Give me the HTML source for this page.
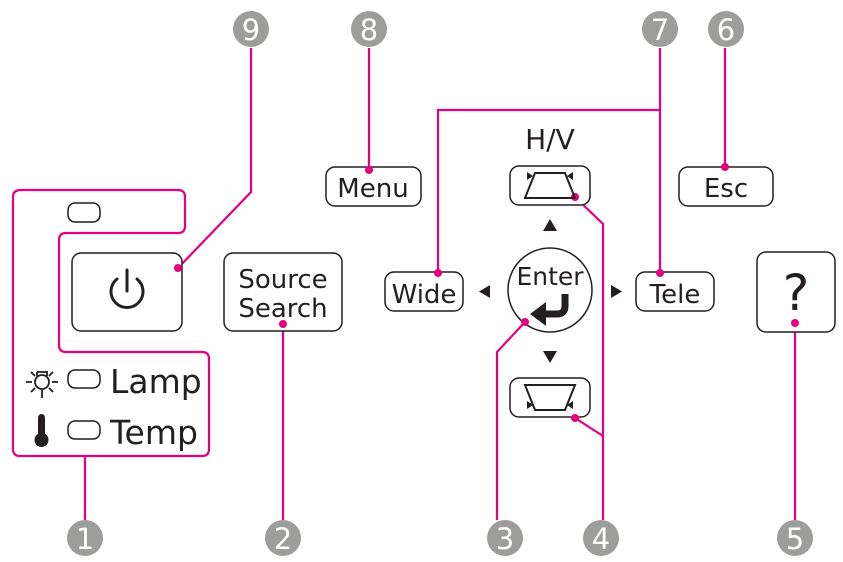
<!DOCTYPE html>
<html><head><style>
html,body{margin:0;padding:0;background:#fff;}
svg{display:block;}
text{font-family:"DejaVu Sans","Liberation Sans",sans-serif;fill:#231f20;}
.n{fill:#fff;font-size:29px;text-anchor:middle;}
</style></head><body>
<svg width="843" height="562" viewBox="0 0 843 562">
<g fill="none" stroke="#e6007e" stroke-width="2.2">
<path d="M251,48 V192 L178,268"/>
<path d="M369,48 V170"/>
<path d="M725,48 V167"/>
<path d="M660,48 V273 M660,110 H438 V273"/>
<path d="M575,197 L603,224 V520 M575,418 L603,436"/>
<path d="M525,322 L497,352 V520"/>
<path d="M283,324 V520"/>
<path d="M795,323 V520"/>
<path d="M85,456 V520"/>
<path d="M21,190 H178 Q185,190 185,197 V226 Q185,233 178,233 H66 Q59,233 59,240 V345 Q59,352 66,352 H202 Q209,352 209,359 V449 Q209,456 202,456 H20 Q13,456 13,449 V197 Q13,190 21,190 Z"/>
</g>
<g fill="#9d9d9c">
<circle cx="251" cy="29" r="18"/><circle cx="369" cy="29" r="18"/><circle cx="660" cy="29" r="18"/><circle cx="726" cy="29" r="18"/>
<circle cx="85" cy="538" r="18"/><circle cx="283" cy="538" r="18"/><circle cx="505" cy="538" r="18"/><circle cx="601" cy="538" r="18"/><circle cx="795" cy="538" r="18"/>
</g>
<g>
<text class="n" x="251" y="40">9</text><text class="n" x="369" y="40">8</text><text class="n" x="660" y="40">7</text><text class="n" x="726" y="40">6</text>
<text class="n" x="85" y="549">1</text><text class="n" x="283" y="549">2</text><text class="n" x="505" y="549">3</text><text class="n" x="601" y="549">4</text><text class="n" x="795" y="549">5</text>
</g>
<g fill="#fff" stroke="#231f20" stroke-width="1.5">
<rect x="68" y="203" width="32" height="19" rx="7"/>
<rect x="72" y="253" width="110" height="78" rx="9"/>
<rect x="224" y="253" width="118" height="78" rx="9"/>
<rect x="326" y="167" width="95" height="39" rx="9"/>
<rect x="679" y="167" width="94" height="39" rx="9"/>
<rect x="510" y="166" width="80" height="39" rx="9"/>
<rect x="510" y="378" width="80" height="39" rx="9"/>
<rect x="385" y="272" width="78" height="39" rx="9"/>
<rect x="636" y="272" width="78" height="39" rx="9"/>
<rect x="757" y="252" width="78" height="80" rx="9"/>
<circle cx="550" cy="290" r="42"/>
<rect x="68" y="370" width="32" height="18" rx="7"/>
<rect x="68" y="421" width="32" height="18" rx="7"/>
</g>
<g fill="#e6007e">
<circle cx="178" cy="268" r="4"/><circle cx="369" cy="170" r="4"/><circle cx="725" cy="167" r="4"/>
<circle cx="660" cy="273" r="4"/><circle cx="438" cy="273" r="4"/><circle cx="575" cy="197" r="4"/>
<circle cx="575" cy="418" r="4"/><circle cx="525" cy="322" r="4"/><circle cx="283" cy="324" r="4"/>
<circle cx="795" cy="323" r="4"/>
</g>
<!-- power icon -->
<g fill="none" stroke="#231f20" stroke-width="3" stroke-linecap="round">
<path d="M117,279 A16,16 0 1 0 137,279"/><path d="M127,270 V291"/>
</g>
<!-- sun -->
<g fill="none" stroke="#231f20" stroke-width="1.8">
<circle cx="42" cy="382" r="7"/><path d="M37,372 h10 v4 M37,372 v4 M26,382 h6 M52,382 h6 M31,372 l4,4 M53,372 l-4,4 M31,392 l4,-4 M53,392 l-4,-4 M42,390 v8"/>
</g>
<rect x="38" y="414" width="7" height="24" rx="3.5" fill="#231f20"/><circle cx="41.5" cy="440" r="7" fill="#231f20"/>
<text x="110" y="393" font-size="33">Lamp</text>
<text x="110" y="444" font-size="33">Temp</text>
<text x="283" y="288" font-size="26" text-anchor="middle">Source</text>
<text x="283" y="317" font-size="26" text-anchor="middle">Search</text>
<text x="373" y="197" font-size="26" text-anchor="middle">Menu</text>
<text x="726" y="197" font-size="26" text-anchor="middle">Esc</text>
<text x="424" y="303" font-size="26" text-anchor="middle">Wide</text>
<text x="675" y="303" font-size="26" text-anchor="middle">Tele</text>
<text x="550" y="149" font-size="28" text-anchor="middle">H/V</text>
<text x="550" y="285" font-size="25" text-anchor="middle">Enter</text>
<text x="796" y="310" font-size="50" text-anchor="middle">?</text>
<!-- enter arrow -->
<path d="M565,294 V306 Q565,314 557,314 H545" fill="none" stroke="#231f20" stroke-width="7"/>
<path d="M530,314 L546,302 L546,326 Z" fill="#231f20"/>
<!-- keystone icons -->
<g fill="none" stroke="#231f20" stroke-width="2"><path d="M535,173 H565 L575,198 H525 Z"/><path d="M525,385 H575 L565,410 H535 Z"/></g>
<g fill="#231f20">
<path d="M527,172 l6,4 l-6,4Z M573,172 l-6,4 l6,4Z M527,409 l6,-4 l-6,-4Z M573,409 l-6,-4 l6,-4Z"/>
<path d="M543,231 L550,219 L557,231Z M543,351 L557,351 L550,363Z M490,285 L490,298 L479,291.5Z M611,285 L611,298 L622,291.5Z"/>
</g>
</svg>
</body></html>
